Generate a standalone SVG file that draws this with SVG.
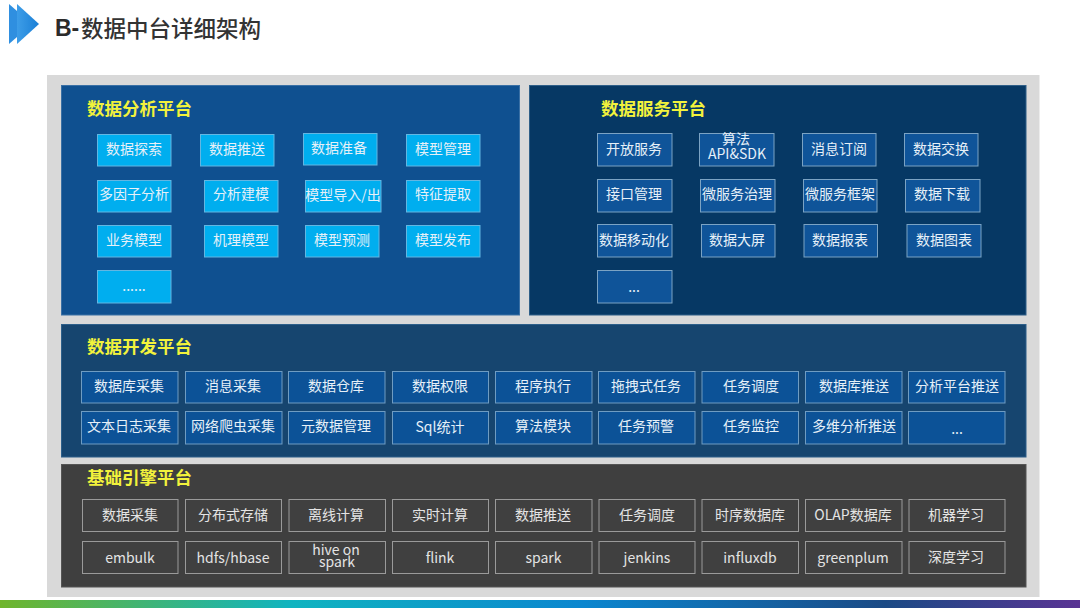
<svg xmlns="http://www.w3.org/2000/svg" width="1080" height="608" viewBox="0 0 1080 608">
<style>
text{font-family:"Noto Sans CJK SC","Noto Sans",sans-serif;text-anchor:middle;dominant-baseline:central}
.t{fill:#e6f0f8;font-size:14px}
.h{fill:#f2f23c;font-size:17.5px;font-weight:700;text-anchor:start;font-family:"Noto Sans CJK SC",serif}
.a rect{fill:#00aeef;stroke:#63b6e2;stroke-width:1}
.b rect{fill:#0f5499;stroke:#7ba3c4;stroke-width:1}
.c rect{fill:#0c5297;stroke:#6f9cc2;stroke-width:1}
.d rect{fill:#404040;stroke:#9a9a9a;stroke-width:1}
.d .t{fill:#e4e4e4}
</style>
<defs>
<linearGradient id="bar" x1="0" x2="1" y1="0" y2="0">
<stop offset="0" stop-color="#6fb52c"/><stop offset="0.27" stop-color="#10b4c0"/><stop offset="0.54" stop-color="#0b86cf"/><stop offset="0.82" stop-color="#1b4a85"/><stop offset="1" stop-color="#5a3494"/>
</linearGradient>
<linearGradient id="ch" gradientUnits="userSpaceOnUse" x1="9" x2="39" y1="0" y2="0"><stop offset="0" stop-color="#4aa8ee"/><stop offset="1" stop-color="#1a7fd6"/></linearGradient>
</defs>
<rect width="1080" height="608" fill="#ffffff"/>
<g id="header">
<polygon points="9,4 17,11 17,37 9,44" fill="#2f8fe0"/>
<polygon points="17,4 39,24 17,44" fill="url(#ch)"/>
<text x="55" y="28" style="font-size:23px;font-weight:700;text-anchor:start;font-family:'Liberation Sans','Noto Sans CJK SC',sans-serif" fill="#2b2b2b">B-</text>
<text x="81" y="27" style="font-size:22.5px;font-weight:500;text-anchor:start" fill="#333333">数据中台详细架构</text>
</g>
<rect id="backdrop" x="47" y="75" width="992.500" height="522" fill="#d9d9d9"/>
<rect id="bottom-bar" x="0" y="600" width="1080" height="8" fill="url(#bar)"/>

<g id="panel-analysis" class="a">
<rect x="61.500" y="85.500" width="458" height="229.500" style="fill:#0f5090;stroke:#3a70a5"/>
<text class="h" x="87" y="107">数据分析平台</text>
<g id="a1"><rect x="97.500" y="134.500" width="73.500" height="31.500"/><text class="t" x="134" y="148">数据探索</text></g>
<g id="a2"><rect x="200.500" y="134.500" width="73.500" height="31.500"/><text class="t" x="237" y="148">数据推送</text></g>
<g id="a3"><rect x="303.500" y="133.500" width="73.500" height="31.500"/><text class="t" x="339" y="147">数据准备</text></g>
<g id="a4"><rect x="406.500" y="134.500" width="73.500" height="31.500"/><text class="t" x="443" y="148">模型管理</text></g>
<g id="a5"><rect x="97.500" y="180.500" width="73.500" height="31.500"/><text class="t" x="134" y="193">多因子分析</text></g>
<g id="a6"><rect x="204.500" y="180.500" width="73.500" height="31.500"/><text class="t" x="241" y="193">分析建模</text></g>
<g id="a7"><rect x="305.500" y="180.500" width="75.500" height="31.500"/><text class="t" x="343" y="194">模型导入/出</text></g>
<g id="a8"><rect x="406.500" y="180.500" width="73.500" height="31.500"/><text class="t" x="443" y="193">特征提取</text></g>
<g id="a9"><rect x="97.500" y="225.500" width="73.500" height="31.500"/><text class="t" x="134" y="239">业务模型</text></g>
<g id="a10"><rect x="204.500" y="225.500" width="73.500" height="31.500"/><text class="t" x="241" y="239">机理模型</text></g>
<g id="a11"><rect x="305.500" y="225.500" width="73.500" height="31.500"/><text class="t" x="342" y="239">模型预测</text></g>
<g id="a12"><rect x="406.500" y="225.500" width="73.500" height="31.500"/><text class="t" x="443" y="239">模型发布</text></g>
<g id="a13"><rect x="97.500" y="270.500" width="73.500" height="32.500"/><text class="t" x="134" y="285">......</text></g>
</g>

<g id="panel-service" class="b">
<rect x="529.500" y="85.500" width="496.500" height="229.500" style="fill:#063864;stroke:#2f5f88"/>
<text class="h" x="601" y="107">数据服务平台</text>
<g id="b1"><rect x="597.500" y="133.500" width="74.500" height="32.500"/><text class="t" x="634" y="148">开放服务</text></g>
<g id="b2"><rect x="699.500" y="133.500" width="74.500" height="32.500"/><text class="t" x="736" y="138">算法</text><text class="t" x="737" y="153">API&amp;SDK</text></g>
<g id="b3"><rect x="802.500" y="133.500" width="73.500" height="32.500"/><text class="t" x="839" y="148">消息订阅</text></g>
<g id="b4"><rect x="904.500" y="133.500" width="73.500" height="32.500"/><text class="t" x="941" y="148">数据交换</text></g>
<g id="b5"><rect x="597.500" y="179.500" width="74.500" height="32.500"/><text class="t" x="634" y="193">接口管理</text></g>
<g id="b6"><rect x="700.500" y="179.500" width="74.500" height="32.500"/><text class="t" x="737" y="193">微服务治理</text></g>
<g id="b7"><rect x="803.500" y="179.500" width="73.500" height="32.500"/><text class="t" x="840" y="193">微服务框架</text></g>
<g id="b8"><rect x="905.500" y="179.500" width="74.500" height="32.500"/><text class="t" x="942" y="193">数据下载</text></g>
<g id="b9"><rect x="597.500" y="224.500" width="74.500" height="32.500"/><text class="t" x="634" y="239">数据移动化</text></g>
<g id="b10"><rect x="701.500" y="224.500" width="73.500" height="32.500"/><text class="t" x="737" y="239">数据大屏</text></g>
<g id="b11"><rect x="804" y="224.500" width="73.500" height="32.500"/><text class="t" x="840" y="239">数据报表</text></g>
<g id="b12"><rect x="907" y="224.500" width="74" height="32.500"/><text class="t" x="944" y="239">数据图表</text></g>
<g id="b13"><rect x="597.500" y="270.500" width="74.500" height="32.500"/><text class="t" x="634" y="286">...</text></g>
</g>

<g id="panel-dev" class="c">
<rect x="61.500" y="324.500" width="964.500" height="132.500" style="fill:#16456f;stroke:#2d5f8a"/>
<text class="h" x="87" y="345">数据开发平台</text>
<g id="c1"><rect x="81.500" y="371.500" width="96.500" height="31.500"/><text class="t" x="129" y="385">数据库采集</text></g>
<g id="c2"><rect x="185.500" y="371.500" width="96.500" height="31.500"/><text class="t" x="233" y="385">消息采集</text></g>
<g id="c3"><rect x="288.500" y="371.500" width="96.500" height="31.500"/><text class="t" x="336" y="385">数据仓库</text></g>
<g id="c4"><rect x="392.500" y="371.500" width="96" height="31.500"/><text class="t" x="440" y="385">数据权限</text></g>
<g id="c5"><rect x="495.500" y="371.500" width="96.500" height="31.500"/><text class="t" x="543" y="385">程序执行</text></g>
<g id="c6"><rect x="598.500" y="371.500" width="96.500" height="31.500"/><text class="t" x="646" y="385">拖拽式任务</text></g>
<g id="c7"><rect x="702" y="371.500" width="96.500" height="31.500"/><text class="t" x="751" y="385">任务调度</text></g>
<g id="c8"><rect x="805.500" y="371.500" width="96.500" height="31.500"/><text class="t" x="854" y="385">数据库推送</text></g>
<g id="c9"><rect x="908.500" y="371.500" width="96.500" height="31.500"/><text class="t" x="957" y="385">分析平台推送</text></g>
<g id="c10"><rect x="81.500" y="411.500" width="96.500" height="32.500"/><text class="t" x="129" y="425">文本日志采集</text></g>
<g id="c11"><rect x="185.500" y="411.500" width="96.500" height="32.500"/><text class="t" x="233" y="425">网络爬虫采集</text></g>
<g id="c12"><rect x="288.500" y="411.500" width="96.500" height="32.500"/><text class="t" x="336" y="425">元数据管理</text></g>
<g id="c13"><rect x="392.500" y="411.500" width="96" height="32.500"/><text class="t" x="440" y="426">Sql统计</text></g>
<g id="c14"><rect x="495.500" y="411.500" width="96.500" height="32.500"/><text class="t" x="543" y="425">算法模块</text></g>
<g id="c15"><rect x="598.500" y="411.500" width="96.500" height="32.500"/><text class="t" x="646" y="425">任务预警</text></g>
<g id="c16"><rect x="702" y="411.500" width="96.500" height="32.500"/><text class="t" x="751" y="425">任务监控</text></g>
<g id="c17"><rect x="805.500" y="411.500" width="96.500" height="32.500"/><text class="t" x="854" y="425">多维分析推送</text></g>
<g id="c18"><rect x="908.500" y="411.500" width="96.500" height="32.500"/><text class="t" x="957" y="428">...</text></g>
</g>

<g id="panel-engine" class="d">
<rect x="61.500" y="464.500" width="964.500" height="122.500" style="fill:#3f3f3f;stroke:#555555"/>
<text class="h" x="87" y="476">基础引擎平台</text>
<g id="d1"><rect x="82.500" y="499.500" width="95.500" height="32"/><text class="t" x="130" y="514">数据采集</text></g>
<g id="d2"><rect x="185.500" y="499.500" width="96" height="32"/><text class="t" x="233" y="514">分布式存储</text></g>
<g id="d3"><rect x="289" y="499.500" width="96.500" height="32"/><text class="t" x="336" y="514">离线计算</text></g>
<g id="d4"><rect x="392.500" y="499.500" width="96" height="32"/><text class="t" x="440" y="514">实时计算</text></g>
<g id="d5"><rect x="495.500" y="499.500" width="96.500" height="32"/><text class="t" x="543" y="514">数据推送</text></g>
<g id="d6"><rect x="599" y="499.500" width="96" height="32"/><text class="t" x="647" y="514">任务调度</text></g>
<g id="d7"><rect x="702" y="499.500" width="96.500" height="32"/><text class="t" x="750" y="514">时序数据库</text></g>
<g id="d8"><rect x="805.500" y="499.500" width="96.500" height="32"/><text class="t" x="853" y="514">OLAP数据库</text></g>
<g id="d9"><rect x="909" y="499.500" width="96" height="32"/><text class="t" x="956" y="514">机器学习</text></g>
<g id="d10"><rect x="82.500" y="541.500" width="95.500" height="32"/><text class="t" x="130" y="556.500">embulk</text></g>
<g id="d11"><rect x="185.500" y="541.500" width="96" height="32"/><text class="t" x="233" y="556.500">hdfs/hbase</text></g>
<g id="d12"><rect x="289" y="541.500" width="96.500" height="32"/><text class="t" x="336" y="549">hive on</text><text class="t" x="337" y="560.500">spark</text></g>
<g id="d13"><rect x="392.500" y="541.500" width="96" height="32"/><text class="t" x="440" y="556.500">flink</text></g>
<g id="d14"><rect x="495.500" y="541.500" width="96.500" height="32"/><text class="t" x="543.500" y="556.500">spark</text></g>
<g id="d15"><rect x="599" y="541.500" width="96" height="32"/><text class="t" x="647" y="556.500">jenkins</text></g>
<g id="d16"><rect x="702" y="541.500" width="96.500" height="32"/><text class="t" x="750" y="556.500">influxdb</text></g>
<g id="d17"><rect x="805.500" y="541.500" width="96.500" height="32"/><text class="t" x="853" y="557">greenplum</text></g>
<g id="d18"><rect x="909" y="541.500" width="96" height="32"/><text class="t" x="956" y="555.500">深度学习</text></g>
</g>
</svg>
